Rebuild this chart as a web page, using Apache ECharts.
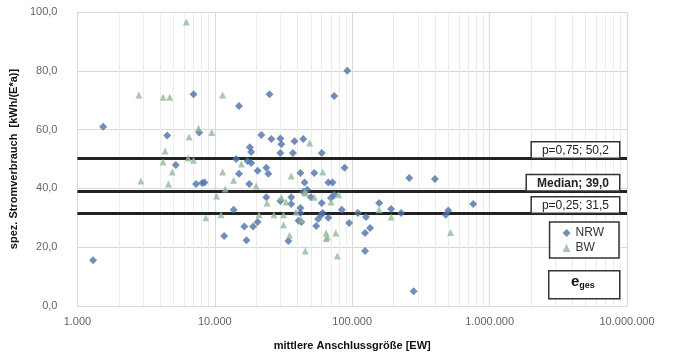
<!DOCTYPE html>
<html>
<head>
    <meta charset="utf-8">
    <title>Stromverbrauch</title>
    <script src="https://cdn.jsdelivr.net/npm/echarts@6/dist/echarts.min.js"></script>
    <style>
        html, body { margin: 0; padding: 0; background: #fff; }
    </style>
</head>
<body>
    <div id="main" style="width: 673px;height:360px;"></div>
    <script type="text/javascript">
        // Messwerte: [mittlere Anschlussgröße EW, kWh/(E*a)]
        var nrw = [
            [1300, 15.6], [1540, 61], [4500, 58], [7700, 59], [7000, 72], [5200, 48],
            [7300, 41.5], [8100, 41.8], [8400, 42], [15000, 68], [25000, 72], [74000, 71.4],
            [92000, 80], [21800, 58.2], [25800, 56.8], [30000, 57], [30500, 55], [38000, 56],
            [44000, 56.8], [18000, 54], [18400, 52.4], [30000, 52], [37000, 52], [60000, 52],
            [14300, 50], [17300, 49.3], [18400, 48.6], [20500, 46], [23700, 47], [24500, 45],
            [15000, 45], [17800, 41.5], [42000, 45.2], [53000, 45.2], [45000, 42], [67000, 42],
            [23700, 37], [36000, 37], [47000, 39.5], [13700, 32.7], [30000, 35.7], [36000, 34.7],
            [20500, 28.6], [19000, 27], [16400, 27], [11700, 23.8], [17000, 22.4], [34300, 22.1],
            [42000, 33.3], [42000, 31.6], [40700, 29], [42600, 28.6], [44000, 38.8], [50000, 37],
            [60000, 35], [59500, 31], [54700, 27.2], [56500, 29.6], [74000, 37.8], [70000, 36.7],
            [61000, 31.6], [67000, 30], [84000, 32.7], [95000, 28.2], [110000, 31.6], [126000, 30.3],
            [157000, 35], [192000, 33], [227000, 31.6], [500000, 32.5], [480000, 31], [135000, 26.5],
            [124000, 24.8], [124000, 18.7], [280000, 5], [260000, 43.5], [400000, 43.2], [760000, 34.7],
            [88000, 47], [72000, 42]
        ];
        var bw = [
            [2800, 71.8], [4200, 71], [4700, 71], [6200, 96.6], [11400, 71.8], [7600, 60.5],
            [6500, 57.5], [9500, 59], [4350, 52.7], [4200, 49], [4900, 45.6], [6400, 50.3],
            [7000, 49.6], [2900, 42.5], [4600, 41.5], [15600, 48.3], [11400, 45.6], [13700, 42.8],
            [20000, 40.8], [36000, 44.2], [61000, 45.6], [10300, 37.4], [11900, 39.8], [45000, 38.8],
            [30500, 37], [8600, 30], [11100, 31], [26900, 31], [31600, 31], [21000, 31],
            [31600, 27.6], [35000, 24.1], [49000, 55.4], [45500, 18.7], [66000, 23.5], [80000, 37.8],
            [70000, 35.4], [64600, 24.8], [64600, 23], [76000, 24.8], [78000, 17], [157000, 32.7],
            [192000, 30.3], [520000, 25], [24000, 35], [33000, 35.4], [39000, 32], [42500, 29.3],
            [46000, 38.4], [53000, 37]
        ];
        var quantilNamen = ['p=0,75; 50,2', 'Median; 39,0', 'p=0,25; 31,5'];
        var quantilWerte = [50.2, 39.0, 31.5];
        var xMin = 1000, xMax = 10000000;
        var yTicks = [0, 20, 40, 60, 80, 100];

        var font = 'Liberation Sans, Arial, sans-serif';
        var rauten = 'path://M0,-1L1,0L0,1L-1,0Z';
        var myChart = echarts.init(document.getElementById('main'));

        // feine Gitterlinien 2..9 je Dekade
        var minorLines = [];
        for (var d = xMin; d < xMax; d *= 10) {
            for (var k = 2; k <= 9; k++) minorLines.push({ xAxis: d * k });
        }

        function tausender(v) {
            return String(Math.round(v)).replace(/\B(?=(\d{3})+(?!\d))/g, '.');
        }

        var option = {
            animation: false,
            textStyle: { fontFamily: font },
            grid: { left: 76, right: 46, top: 12, bottom: 54 },
            legend: {
                zlevel: 1,
                orient: 'vertical',
                right: 54,
                top: 222,
                padding: [5, 15, 4, 13],
                itemGap: 3,
                itemWidth: 8,
                itemHeight: 8,
                borderColor: '#333',
                borderWidth: 1.5,
                backgroundColor: '#fff',
                textStyle: { fontSize: 12, color: '#333', fontFamily: font },
                data: [{ name: 'NRW', icon: rauten }, { name: 'BW', icon: 'triangle' }]
            },
            xAxis: {
                type: 'log',
                logBase: 10,
                min: xMin,
                max: xMax,
                name: 'mittlere Anschlussgröße [EW]',
                nameLocation: 'middle',
                nameGap: 34,
                nameTextStyle: { fontWeight: 'bold', fontSize: 11, color: '#111', fontFamily: font },
                axisLine: { show: true, lineStyle: { color: '#d9d9d9' } },
                axisTick: { show: false },
                axisLabel: { fontSize: 11, color: '#666', margin: 10, formatter: tausender },
                splitLine: { show: true, lineStyle: { color: '#d9d9d9' } }
            },
            yAxis: {
                type: 'value',
                min: yTicks[0],
                max: yTicks[yTicks.length - 1],
                interval: 20,
                name: 'spez. Stromverbrauch  [kWh/(E*a)]',
                nameLocation: 'middle',
                nameGap: 46,
                nameTextStyle: { fontWeight: 'bold', fontSize: 11, color: '#111', fontFamily: font },
                axisLine: { show: true, lineStyle: { color: '#d9d9d9' } },
                axisTick: { show: false },
                axisLabel: {
                    fontSize: 11, color: '#666', margin: 20,
                    formatter: function (v) { return v.toFixed(1).replace('.', ','); }
                },
                splitLine: { show: true, lineStyle: { color: '#d9d9d9' } }
            },
            series: [
                {
                    name: 'gitter',
                    type: 'scatter',
                    data: [],
                    silent: true,
                    zlevel: 0,
                    markLine: {
                        silent: true,
                        symbol: 'none',
                        label: { show: false },
                        lineStyle: { color: '#ececec', width: 1, type: 'solid' },
                        data: minorLines
                    }
                },
                {
                    name: 'NRW',
                    type: 'scatter',
                    symbol: rauten,
                    symbolSize: 8,
                    itemStyle: { color: '#4e70a8' },
                    data: nrw,
                    zlevel: 1
                },
                {
                    name: 'BW',
                    type: 'scatter',
                    symbol: 'triangle',
                    symbolSize: 7,
                    itemStyle: { color: '#93b89a' },
                    data: bw,
                    zlevel: 1
                },
                {
                    name: 'egesLinien',
                    type: 'scatter',
                    data: [],
                    zlevel: 1,
                    z: 5,
                    markLine: {
                        silent: true,
                        symbol: 'none',
                        lineStyle: { color: '#222', width: 3, type: 'solid' },
                        label: {
                            show: true,
                            position: 'insideEndTop',
                            distance: [8, 1],
                            fontSize: 12,
                            color: '#222',
                            fontFamily: font,
                            backgroundColor: '#fff',
                            borderColor: '#333',
                            borderWidth: 1.5,
                            padding: [2, 10, 1, 10]
                        },
                        data: quantilWerte.map(function (v, i) {
                            return {
                                yAxis: v,
                                label: {
                                    formatter: quantilNamen[i],
                                    fontWeight: i === 1 ? 'bold' : 'normal'
                                }
                            };
                        })
                    }
                }
            ],
            graphic: [
                {
                    type: 'rect',
                    zlevel: 1,
                    left: 548,
                    top: 270,
                    shape: { width: 71, height: 28 },
                    style: { fill: '#fff', stroke: '#333', lineWidth: 1.5 },
                    z: 10
                },
                {
                    type: 'text',
                    zlevel: 1,
                    left: 571,
                    top: 274,
                    z: 11,
                    style: {
                        text: '{a|e}{b|ges}',
                        rich: {
                            a: { fontSize: 15, fontWeight: 'bold', fill: '#111', fontFamily: font },
                            b: { fontSize: 9, fontWeight: 'bold', fill: '#111', fontFamily: font, padding: [8, 0, 0, 0] }
                        }
                    }
                }
            ]
        };
        myChart.setOption(option);
    </script>
</body>
</html>
